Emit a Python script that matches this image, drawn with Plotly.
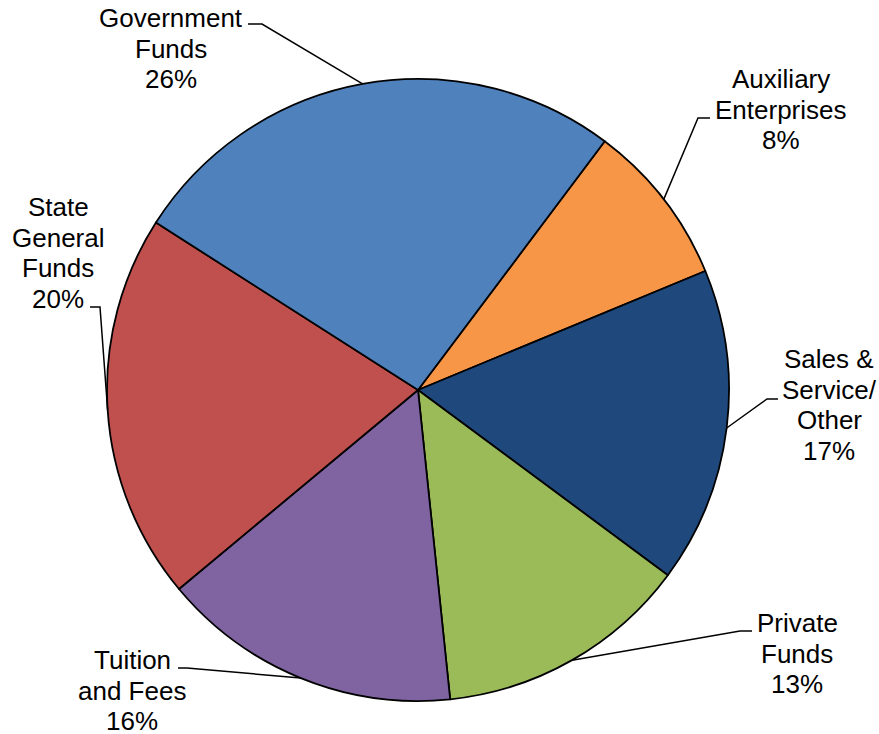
import math
import plotly.graph_objects as go

# Data (clockwise order starting at the Auxiliary slice)
categories = ["Auxiliary Enterprises", "Sales & Service/ Other", "Private Funds",
              "Tuition and Fees", "State General Funds", "Government Funds"]
shares = [8.5, 16.4, 13.2, 15.6, 20.1, 26.2]
share_labels = ["8%", "17%", "13%", "16%", "20%", "26%"]
label_lines = [["Auxiliary", "Enterprises"], ["Sales &", "Service/", "Other"],
               ["Private", "Funds"], ["Tuition", "and Fees"],
               ["State", "General", "Funds"], ["Government", "Funds"]]
colors = ["#F79646", "#1F497D", "#9BBB59", "#8064A2", "#C0504D", "#4F81BD"]

W, H = 879, 734
CX, CY, R = 418, 390, 311
ROT = 36.9

def px(x):
    return x / W

def py(y):
    return 1 - y / H

fig = go.Figure(go.Pie(
    labels=categories, values=shares, sort=False, direction="clockwise",
    rotation=ROT, textinfo="none", hoverinfo="label+percent",
    marker=dict(colors=colors, line=dict(color="black", width=1.8)),
    domain=dict(x=[px(CX - R), px(CX + R)], y=[py(CY + R), py(CY - R)]),
    showlegend=False,
))

# label placement (layout): text center x, first line y, tick start/end
label_pos = [
    (781, 79, (710, 118), (698, 118)),
    (829, 359, (778, 399), (767, 399)),
    (797, 623, (752, 631), (740, 631)),
    (132, 660, (178, 668), (187, 668)),
    (58, 207, (90, 307), (100, 307)),
    (171, 18, (248, 24), (262, 24)),
]
LINE_H = 30.6

total = sum(shares)
ang = ROT
annotations = []
shapes = []
for i, v in enumerate(shares):
    span = v / total * 360
    mid = math.radians(ang + span / 2)
    ang += span
    ex = CX + R * math.sin(mid)
    ey = CY - R * math.cos(mid)
    tx, ty, t0, t1 = label_pos[i]
    lines = label_lines[i] + [share_labels[i]]
    for k, line in enumerate(lines):
        annotations.append(dict(
            x=px(tx), y=py(ty + k * LINE_H), xref="paper", yref="paper",
            text=line, showarrow=False, xanchor="center", yanchor="middle",
            font=dict(family="Liberation Sans, Arial, sans-serif", size=26, color="black"),
        ))
    shapes.append(dict(
        type="path", xref="paper", yref="paper",
        path=f"M {px(t0[0])} {py(t0[1])} L {px(t1[0])} {py(t1[1])} L {px(ex)} {py(ey)}",
        line=dict(color="black", width=1.5),
    ))

fig.update_layout(
    width=W, height=H, margin=dict(l=0, r=0, t=0, b=0),
    paper_bgcolor="white", plot_bgcolor="white",
    annotations=annotations, shapes=shapes,
)

fig.write_html("out.html", config={"displayModeBar": False},
               post_script="document.body.style.margin='0';document.body.style.overflow='hidden';")
